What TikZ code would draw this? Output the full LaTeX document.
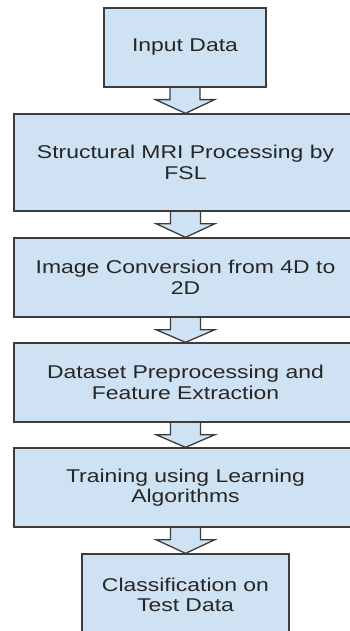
\documentclass[tikz,border=0pt]{standalone}
\usepackage{fontspec}
\setmainfont{Liberation Sans}[FakeStretch=1.24]
\usetikzlibrary{backgrounds}
\definecolor{boxfill}{HTML}{CFE2F3}
\definecolor{boxline}{HTML}{3C3C3C}
\begin{document}
\begin{tikzpicture}[x=1pt,y=1pt]
\tikzstyle{every node}+=[inner sep=0pt]
\tikzstyle{box}=[draw=boxline, fill=boxfill, line width=1.3pt, align=center, font=\fontsize{18.5}{20.5}\selectfont, text=black!85]
\tikzstyle{wide}=[minimum width=343, minimum height=79]
\tikzstyle{fatarrow}=[draw=boxline, fill=boxfill, line width=1.3pt, line join=miter]
\useasboundingbox (0,0) rectangle (349,-631);
\draw (185,-47.5) node[box, minimum width=162, minimum height=79] (input) {Input Data};
\draw (185.5,-162.5) node[box, wide, minimum height=97] (fsl) {Structural MRI Processing by\\FSL};
\draw (185.5,-277.5) node[box, wide] (convert) {Image Conversion from 4D to\\2D};
\draw (185.5,-382.5) node[box, wide] (preproc) {Dataset Preprocessing and\\Feature Extraction};
\draw (185.5,-487.5) node[box, wide] (training) {Training using Learning\\Algorithms};
\draw (185.5,-595) node[box, minimum width=207, minimum height=82] (classify) {Classification on\\Test Data};
\begin{scope}[on background layer]
\draw [fatarrow] ([xshift=-15pt]input.south) -- ++(0,-12) -- ++(-14.5,0) -- (fsl.north) -- ([xshift=29.5pt,yshift=-12pt]input.south) -- ++(-14.5,0) -- ++(0,12);
\draw [fatarrow] ([xshift=-15pt]fsl.south) -- ++(0,-12) -- ++(-14.5,0) -- (convert.north) -- ([xshift=29.5pt,yshift=-12pt]fsl.south) -- ++(-14.5,0) -- ++(0,12);
\draw [fatarrow] ([xshift=-15pt]convert.south) -- ++(0,-12) -- ++(-14.5,0) -- (preproc.north) -- ([xshift=29.5pt,yshift=-12pt]convert.south) -- ++(-14.5,0) -- ++(0,12);
\draw [fatarrow] ([xshift=-15pt]preproc.south) -- ++(0,-12) -- ++(-14.5,0) -- (training.north) -- ([xshift=29.5pt,yshift=-12pt]preproc.south) -- ++(-14.5,0) -- ++(0,12);
\draw [fatarrow] ([xshift=-15pt]training.south) -- ++(0,-12) -- ++(-14.5,0) -- (classify.north) -- ([xshift=29.5pt,yshift=-12pt]training.south) -- ++(-14.5,0) -- ++(0,12);
\end{scope}
\end{tikzpicture}
\end{document}
